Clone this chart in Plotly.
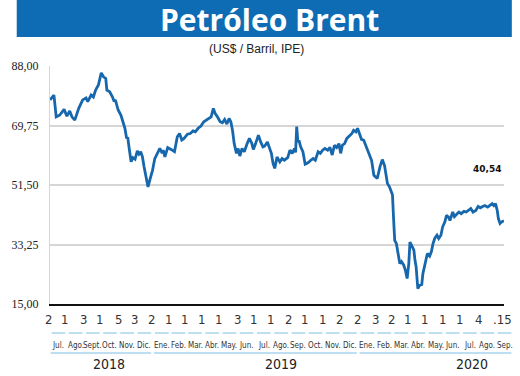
import pandas as pd
import plotly.graph_objects as go

# ---- data ----
dates = [
    "2018-07-02", "2018-07-05", "2018-07-09", "2018-07-13", "2018-07-19", "2018-07-27",
    "2018-08-01", "2018-08-06", "2018-08-10", "2018-08-15", "2018-08-22", "2018-08-29",
    "2018-09-04", "2018-09-07", "2018-09-13", "2018-09-17", "2018-09-21", "2018-09-26",
    "2018-10-01", "2018-10-05", "2018-10-09", "2018-10-11", "2018-10-16", "2018-10-21",
    "2018-10-24", "2018-10-26", "2018-10-31", "2018-11-05", "2018-11-09", "2018-11-12",
    "2018-11-15", "2018-11-17", "2018-11-20", "2018-11-23", "2018-11-26", "2018-11-30",
    "2018-12-04", "2018-12-07", "2018-12-10", "2018-12-13", "2018-12-16", "2018-12-19",
    "2018-12-23", "2018-12-27", "2018-12-31",
    "2019-01-04", "2019-01-08", "2019-01-13", "2019-01-17", "2019-01-19", "2019-01-22",
    "2019-01-27", "2019-02-02", "2019-02-08", "2019-02-13", "2019-02-17", "2019-02-21",
    "2019-02-25", "2019-03-03", "2019-03-08", "2019-03-13", "2019-03-17", "2019-03-22",
    "2019-03-27", "2019-04-01", "2019-04-05", "2019-04-10", "2019-04-14", "2019-04-18",
    "2019-04-21", "2019-04-26", "2019-04-30", "2019-05-04", "2019-05-08", "2019-05-12",
    "2019-05-16", "2019-05-19", "2019-05-22", "2019-05-25", "2019-05-29", "2019-06-01",
    "2019-06-04", "2019-06-08", "2019-06-12", "2019-06-17", "2019-06-21", "2019-06-25",
    "2019-06-28", "2019-07-02", "2019-07-07", "2019-07-11", "2019-07-15", "2019-07-18",
    "2019-07-23", "2019-07-26", "2019-07-30", "2019-08-02", "2019-08-05", "2019-08-09",
    "2019-08-14", "2019-08-18", "2019-08-22", "2019-08-28", "2019-09-01", "2019-09-05",
    "2019-09-09", "2019-09-11", "2019-09-13", "2019-09-15", "2019-09-17", "2019-09-20",
    "2019-09-24", "2019-09-28", "2019-10-03", "2019-10-08", "2019-10-12", "2019-10-16",
    "2019-10-21", "2019-10-25", "2019-10-29", "2019-11-02", "2019-11-07", "2019-11-11",
    "2019-11-15", "2019-11-19", "2019-11-23", "2019-11-27", "2019-11-30", "2019-12-03",
    "2019-12-07", "2019-12-11", "2019-12-16", "2019-12-20", "2019-12-23", "2019-12-27",
    "2019-12-30",
    "2020-01-02", "2020-01-06", "2020-01-10", "2020-01-15", "2020-01-19", "2020-01-24",
    "2020-01-28", "2020-02-03", "2020-02-08", "2020-02-12", "2020-02-16", "2020-02-21",
    "2020-02-25", "2020-03-01", "2020-03-03", "2020-03-05", "2020-03-08", "2020-03-11",
    "2020-03-14", "2020-03-17", "2020-03-21", "2020-03-24", "2020-03-27", "2020-03-30",
    "2020-04-01", "2020-04-04", "2020-04-08", "2020-04-10", "2020-04-12", "2020-04-15",
    "2020-04-18", "2020-04-22", "2020-04-24", "2020-04-28", "2020-05-02", "2020-05-06",
    "2020-05-09", "2020-05-12", "2020-05-15", "2020-05-19", "2020-05-22", "2020-05-26",
    "2020-05-29", "2020-06-02", "2020-06-05", "2020-06-09", "2020-06-11", "2020-06-16",
    "2020-06-19", "2020-06-23", "2020-06-27", "2020-07-01", "2020-07-06", "2020-07-10",
    "2020-07-14", "2020-07-18", "2020-07-22", "2020-07-27", "2020-07-31", "2020-08-04",
    "2020-08-08", "2020-08-12", "2020-08-17", "2020-08-21", "2020-08-25", "2020-08-28",
    "2020-08-31", "2020-09-03", "2020-09-05", "2020-09-08", "2020-09-11", "2020-09-15",
]
brent = [
    77.6, 78.3, 79.1, 72.4, 72.9, 74.7,
    72.6, 74.2, 72.4, 71.4, 75.0, 77.6,
    78.2, 77.1, 79.1, 78.5, 80.6, 82.2,
    85.9, 84.7, 84.2, 80.6, 80.1, 78.5,
    77.1, 77.6, 74.5, 72.9, 70.4, 68.9,
    65.8, 66.1, 62.2, 58.6, 59.9, 59.4,
    62.0, 61.0, 61.7, 60.2, 57.1, 54.5,
    50.9, 53.5, 56.0,
    59.6, 61.2, 62.7, 61.3, 62.2, 60.1,
    63.0, 62.4, 61.7, 66.3, 67.3, 65.3,
    65.8, 67.1, 67.3, 68.1, 67.8, 68.9,
    69.6, 70.9, 71.4, 71.9, 72.4, 75.0,
    73.5, 72.2, 70.9, 70.6, 71.6, 70.2,
    71.9, 70.9, 68.3, 64.2, 61.2, 62.7,
    60.4, 62.7, 61.7, 64.2, 65.8, 64.4,
    62.4, 64.2, 66.8, 64.7, 63.2, 63.4,
    64.7, 63.2, 61.2, 58.1, 56.6, 60.1,
    58.6, 59.6, 59.1, 59.9, 62.2, 61.2,
    62.7, 61.5, 69.4, 64.7, 65.2, 63.2,
    61.7, 57.9, 58.3, 59.1, 59.6, 59.1,
    61.7, 61.2, 62.2, 62.7, 62.2, 63.0,
    60.7, 63.7, 63.0, 64.2, 61.2, 63.7,
    64.2, 65.8, 66.5, 67.3, 68.3, 67.8,
    68.9,
    67.6, 65.5, 65.2, 63.0, 61.0, 59.0,
    54.5, 53.5, 57.2, 59.3, 57.4, 52.0,
    50.8, 48.5, 41.0, 34.5, 33.5, 30.5,
    27.4, 28.0, 26.9, 25.3, 22.8, 27.4,
    34.0, 33.0, 31.5, 28.4, 26.4, 19.7,
    20.7, 21.0, 24.3, 27.4, 30.5, 29.7,
    31.0, 33.5, 35.1, 36.1, 35.1, 36.1,
    38.6, 40.2, 42.2, 41.5, 40.6, 43.2,
    41.8, 42.5, 43.2, 42.7, 43.4, 43.2,
    43.7, 44.3, 43.2, 43.7, 44.9, 44.5,
    44.9, 45.2, 44.7, 45.2, 45.8, 45.2,
    45.8, 43.7, 41.2, 39.7, 40.2, 40.54,
]
y_ticks = [15.00, 33.25, 51.50, 69.75, 88.00]
y_tick_text = ["15,00", "33,25", "51,50", "69,75", "88,00"]
day_labels = ["2", "1", "3", "1", "5", "3", "2", "1", "1", "1", "1", "3", "1",
              "1", "2", "1", "1", "2", "2", "3", "2", "1", "1", "1", "1", "4", ".15"]
month_labels = ["Jul.", "Ago.", "Sept.", "Oct.", "Nov.", "Dic.",
                "Ene.", "Feb.", "Mar.", "Abr.", "May.", "Jun.", "Jul.", "Ago.", "Sep.", "Oct.", "Nov.", "Dic.",
                "Ene.", "Feb.", "Mar.", "Abr.", "May.", "Jun.", "Jul.", "Ago.", "Sep."]
years = ["2018", "2019", "2020"]
year_label_dates = ["2018-10-14", "2019-08-16", "2020-07-20"]
last_label = "40,54"

# ---- layout constants ----
W, H = 520, 376
ML, MR, MT, MB = 40, 16, 66, 72
PW, PH = W - ML - MR, H - MT - MB
START, END = pd.Timestamp(dates[0]), pd.Timestamp(dates[-1])
LINE = "#1767ad"
BANNER = "#0e6cb5"
DASH = "#a8d3ec"
GRID = "#d6d6d6"
COND = "DejaVu Sans Condensed, DejaVu Sans"


def fx(d):
    return (pd.Timestamp(d) - START) / (END - START)


def px2x(px):
    return (px - ML) / PW


def py2y(py):
    return (H - MB - py) / PH


fig = go.Figure(go.Scatter(x=dates, y=brent, mode="lines",
                           line=dict(color=LINE, width=2.8), hoverinfo="skip"))

shapes = []
annotations = []

# banner
shapes.append(dict(type="rect", xref="paper", yref="paper", x0=px2x(6), x1=px2x(512),
                   y0=py2y(37), y1=py2y(0), fillcolor=BANNER, line=dict(width=0), layer="below"))
annotations.append(dict(text="Petróleo Brent", xref="paper", yref="paper", x=px2x(264), y=py2y(19),
                        xanchor="center", yanchor="middle", showarrow=False,
                        font=dict(family="Open Sans", size=30, color="white", weight="bold")))
annotations.append(dict(text="(US$ / Barril, IPE)", xref="paper", yref="paper", x=px2x(251), y=py2y(49),
                        xanchor="center", yanchor="middle", showarrow=False,
                        font=dict(family="Liberation Sans", size=12, color="#222")))

# month bookkeeping
month_starts = pd.date_range("2018-07-01", periods=len(month_labels) + 1, freq="MS")
centers = []
for i, lab in enumerate(month_labels):
    a = max(month_starts[i], START)
    b = month_starts[i + 1]
    c = fx(a + (b - a) / 2)
    centers.append(c)
    annotations.append(dict(text=lab, xref="paper", yref="paper", x=c, y=py2y(345),
                            xanchor="center", yanchor="middle", showarrow=False,
                            font=dict(family=COND, size=8, color="#333")))
    # day-of-month label at first quote of the month
    day = day_labels[i].lstrip(".")
    d = month_starts[i] + pd.Timedelta(days=int(day) - 1)
    annotations.append(dict(text=day_labels[i], xref="paper", yref="paper", x=fx(d), y=py2y(319),
                            xanchor="center", yanchor="middle", showarrow=False, xshift=-2,
                            font=dict(family=COND, size=13, color="#333")))
    cpx = ML + c * PW
    shapes.append(dict(type="line", xref="paper", yref="paper", x0=px2x(cpx - 7), x1=px2x(cpx + 7),
                       y0=py2y(333), y1=py2y(333), line=dict(color=DASH, width=1.5)))

# year underlines and labels
groups = [(0, 6), (6, 18), (18, 27)]
for (i0, i1), yr, yd in zip(groups, years, year_label_dates):
    a = ML + centers[i0] * PW - 8
    b = ML + centers[i1 - 1] * PW + 7
    shapes.append(dict(type="line", xref="paper", yref="paper", x0=px2x(a), x1=px2x(b),
                       y0=py2y(353), y1=py2y(353), line=dict(color=DASH, width=1.5)))
    annotations.append(dict(text=yr, xref="paper", yref="paper", x=fx(yd), y=py2y(364),
                            xanchor="center", yanchor="middle", showarrow=False,
                            font=dict(family=COND, size=14, color="#222")))

# last value label
annotations.append(dict(text=last_label, xref="paper", yref="paper", x=px2x(487), y=py2y(169),
                        xanchor="center", yanchor="middle", showarrow=False,
                        font=dict(family="DejaVu Sans", size=9, color="#111", weight="bold")))

fig.update_layout(
    width=W, height=H, margin=dict(l=ML, r=MR, t=MT, b=MB),
    paper_bgcolor="white", plot_bgcolor="white", showlegend=False,
    shapes=shapes, annotations=annotations,
    xaxis=dict(type="date", range=[START, END], showticklabels=False, showgrid=False,
               showline=True, linecolor="#111", linewidth=2, ticks="", zeroline=False,
               fixedrange=True),
    yaxis=dict(range=[15, 88], tickvals=y_ticks, ticktext=y_tick_text, showgrid=True,
               gridcolor=GRID, gridwidth=1.5, showline=True, linecolor=GRID, linewidth=1,
               ticks="", zeroline=False, ticklabelstandoff=8,
               tickfont=dict(family="Liberation Serif", size=12, color="#222"), fixedrange=True),
)

fig.write_html("out.html", config={"displayModeBar": False},
               post_script="document.body.style.margin='0';")
